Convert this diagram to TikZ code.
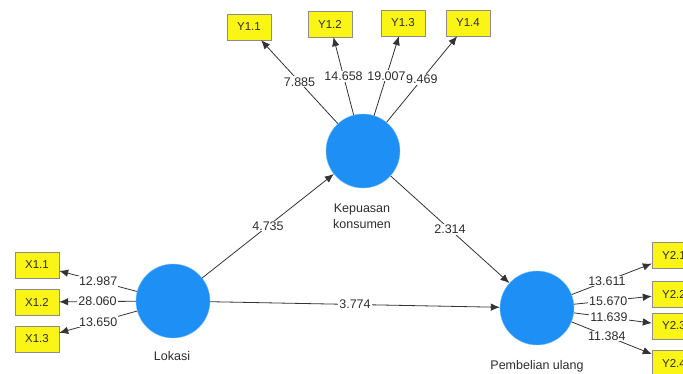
\documentclass[tikz,border=0pt]{standalone}
\usepackage{fontspec}
\setmainfont{Liberation Sans}
\usetikzlibrary{arrows.meta}
\definecolor{lvblue}{RGB}{30,144,245}
\definecolor{indyellow}{RGB}{250,245,20}
\definecolor{txtgray}{RGB}{45,45,45}

\begin{document}
\begin{tikzpicture}[x=1pt,y=-1pt,
		lv/.style = {circle, fill=lvblue, draw=lvblue!60, minimum size=74pt, inner sep=0pt},
		ind/.style = {rectangle, fill=indyellow, draw=black!45, minimum width=44pt, minimum height=26pt, inner sep=1pt, font=\fontsize{11.5}{13}\selectfont, text=txtgray},
		lbl/.style = {fill=white, inner sep=1pt, font=\fontsize{12.5}{14}\selectfont, text=txtgray},
		arr/.style = {draw=black!80, line width=0.8pt, -{Latex[length=9pt,width=7.5pt]}}]
				\useasboundingbox (0,0) rectangle (683,374);
				\clip (0,0) rectangle (683,374);
				% latent variables
				\node[lv] (K) at (363,151) {};
				\node[lv] (L) at (173,301) {};
				\node[lv] (P) at (537,308) {};
				\node[lbl, align=center, font=\fontsize{12.5}{16}\selectfont] (Klab) at (362,216) {Kepuasan\\konsumen};
				\node[lbl] (Llab) at (172,356) {Lokasi};
				\node[lbl] (Plab) at (537,366) {Pembelian ulang};
				% indicators
				\begin{scope}[every node/.style={ind}]
					\node (Y11) at (249,27) {Y1.1};
					\node (Y12) at (330,24) {Y1.2};
					\node (Y13) at (403,23) {Y1.3};
					\node (Y14) at (468,23) {Y1.4};
					\node (X11) at (37,265) {X1.1};
					\node (X12) at (37,302) {X1.2};
					\node (X13) at (37,339) {X1.3};
					\node (Y21) at (674,255) {Y2.1};
					\node (Y22) at (674,294) {Y2.2};
					\node (Y23) at (674,326) {Y2.3};
					\node (Y24) at (674,363) {Y2.4};
				\end{scope}
				% outer loadings
				\draw [arr] (K) -- node[lbl] {7.885} (Y11);
				\draw [arr] (K) -- node[lbl] {14.658} (Y12);
				\draw [arr] (K) -- node[lbl] {19.007} (Y13);
				\draw [arr] (K) -- node[lbl] {9.469} (Y14);
				\draw [arr] (L) -- node[lbl] {12.987} (X11);
				\draw [arr] (L) -- node[lbl] {28.060} (X12);
				\draw [arr] (L) -- node[lbl] {13.650} (X13);
				\draw [arr] (P) -- node[lbl, pos=0.44] {13.611} (Y21);
				\draw [arr] (P) -- node[lbl, pos=0.44] {15.670} (Y22);
				\draw [arr] (P) -- node[lbl, pos=0.45] {11.639} (Y23);
				\draw [arr] (P) -- node[lbl, pos=0.44] {11.384} (Y24);
				% inner paths
				\draw [arr] (L) -- node[lbl] {4.735} (K);
				\draw [arr] (K) -- node[lbl] {2.314} (P);
				\draw [arr] (L) -- node[lbl] {3.774} (P);
			\end{tikzpicture}
\end{document}
